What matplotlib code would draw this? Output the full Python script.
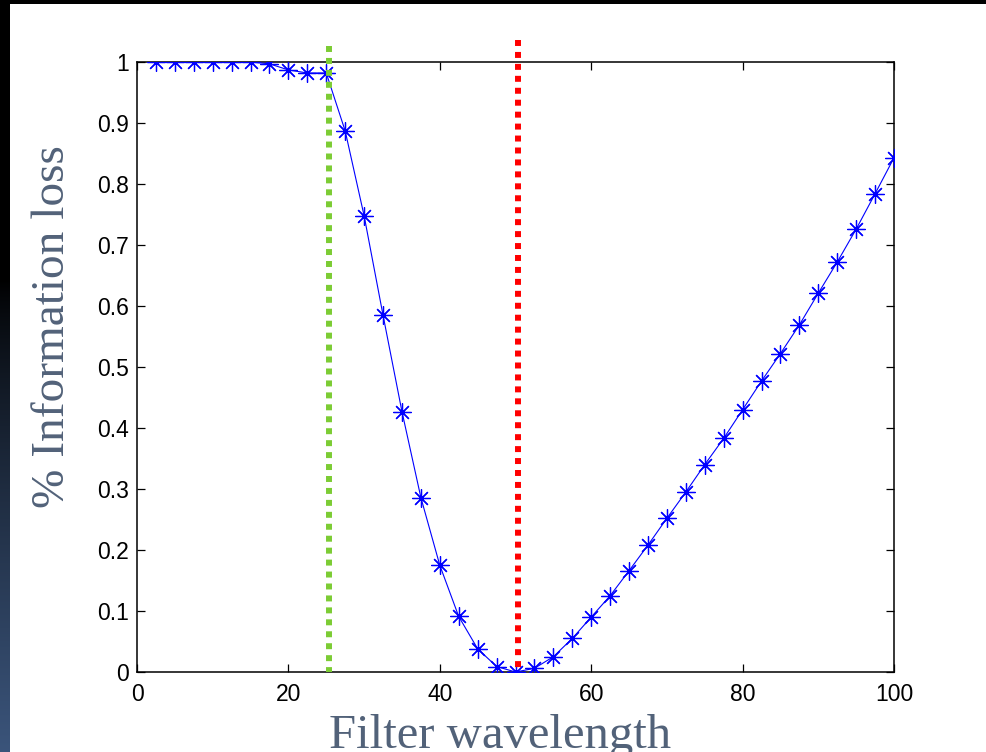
import numpy as np
import matplotlib
matplotlib.use("Agg")
import matplotlib.pyplot as plt
from matplotlib.patches import Rectangle

# Filter wavelength sweep and the resulting fractional information loss
wavelength = [2.5, 5, 7.5, 10, 12.5, 15, 17.5, 20, 22.5, 25,
              27.5, 30, 32.5, 35, 37.5, 40, 42.5, 45, 47.5, 50,
              52.5, 55, 57.5, 60, 62.5, 65, 67.5, 70, 72.5, 75,
              77.5, 80, 82.5, 85, 87.5, 90, 92.5, 95, 97.5, 100]
info_loss = [1.0, 1.0, 1.0, 1.0, 1.0, 1.0, 0.997, 0.987, 0.982, 0.982,
             0.887, 0.748, 0.585, 0.427, 0.286, 0.175, 0.091, 0.038, 0.009, 0.0,
             0.006, 0.025, 0.055, 0.090, 0.125, 0.166, 0.208, 0.252, 0.295, 0.340,
             0.383, 0.430, 0.477, 0.522, 0.569, 0.621, 0.672, 0.726, 0.784, 0.843]

# Reference markers
green_x = 25.4
red_x = 50.3
green_top = 1.026
red_top = 1.036

x_ticks = [0, 20, 40, 60, 80, 100]
y_ticks = [0, 0.1, 0.2, 0.3, 0.4, 0.5, 0.6, 0.7, 0.8, 0.9, 1]
y_tick_labels = ["0", "0.1", "0.2", "0.3", "0.4", "0.5", "0.6", "0.7", "0.8", "0.9", "1"]

W, H = 986, 752
fig = plt.figure(figsize=(W / 100, H / 100), dpi=100, facecolor="white")

# Slide decoration: dark strip on the left with a blue gradient, black top band
strip = fig.add_axes([0, 0, 10 / W, 1])
rows = np.linspace(0, 1, 400)  # 0 at top, 1 at bottom
t = np.clip((rows * H - 280) / (H - 280), 0, 1) ** 0.8
bottom_col = np.array([0.23, 0.33, 0.48])
grad = t[:, None, None] * bottom_col[None, None, :]
strip.imshow(grad, aspect="auto", extent=[0, 1, 0, 1], origin="upper")
strip.axis("off")
fig.patches.append(Rectangle((0, 1 - 4 / H), 1, 4 / H, transform=fig.transFigure,
                             facecolor="black", edgecolor="none", zorder=5))

ax = fig.add_axes([137 / W, 80 / H, 757 / W, 610 / H])

ax.plot(wavelength, info_loss, color="#0000ff", linewidth=0.8,
        marker=(8, 2, 0), markersize=13, markeredgewidth=0.9, zorder=3)

ax.plot([green_x, green_x], [green_top, 0], color="#7ccc34", linewidth=4.3,
        linestyle=(0, (1, 1)), solid_capstyle="butt", dash_capstyle="butt",
        clip_on=False, zorder=4)
ax.plot([red_x, red_x], [red_top, 0], color="#ff0000", linewidth=4.3,
        linestyle=(0, (1, 1)), solid_capstyle="butt", dash_capstyle="butt",
        clip_on=False, zorder=4)

ax.set_xlim(0, 100)
ax.set_ylim(0, 1)
ax.set_xticks(x_ticks)
ax.set_yticks(y_ticks)
ax.set_yticklabels(y_tick_labels)
ax.tick_params(direction="in", length=6, width=0.9, top=True, right=True,
               labelsize=16.5, pad=6, colors="black",
               labelfontfamily="Liberation Sans")
ax.tick_params(axis="x", pad=8)
for s in ax.spines.values():
    s.set_linewidth(1.1)
    s.set_color("black")

label_color = "#526279"
fig.text(500 / W, 4 / H, "Filter wavelength", fontsize=35, family="Liberation Serif",
         color=label_color, ha="center", va="baseline")
fig.text(53 / W, 1 - 327 / H, "% Information loss", fontsize=34, family="Liberation Serif",
         color=label_color, ha="center", va="center", rotation=90)

fig.savefig("out.png", dpi=100, facecolor="white")
